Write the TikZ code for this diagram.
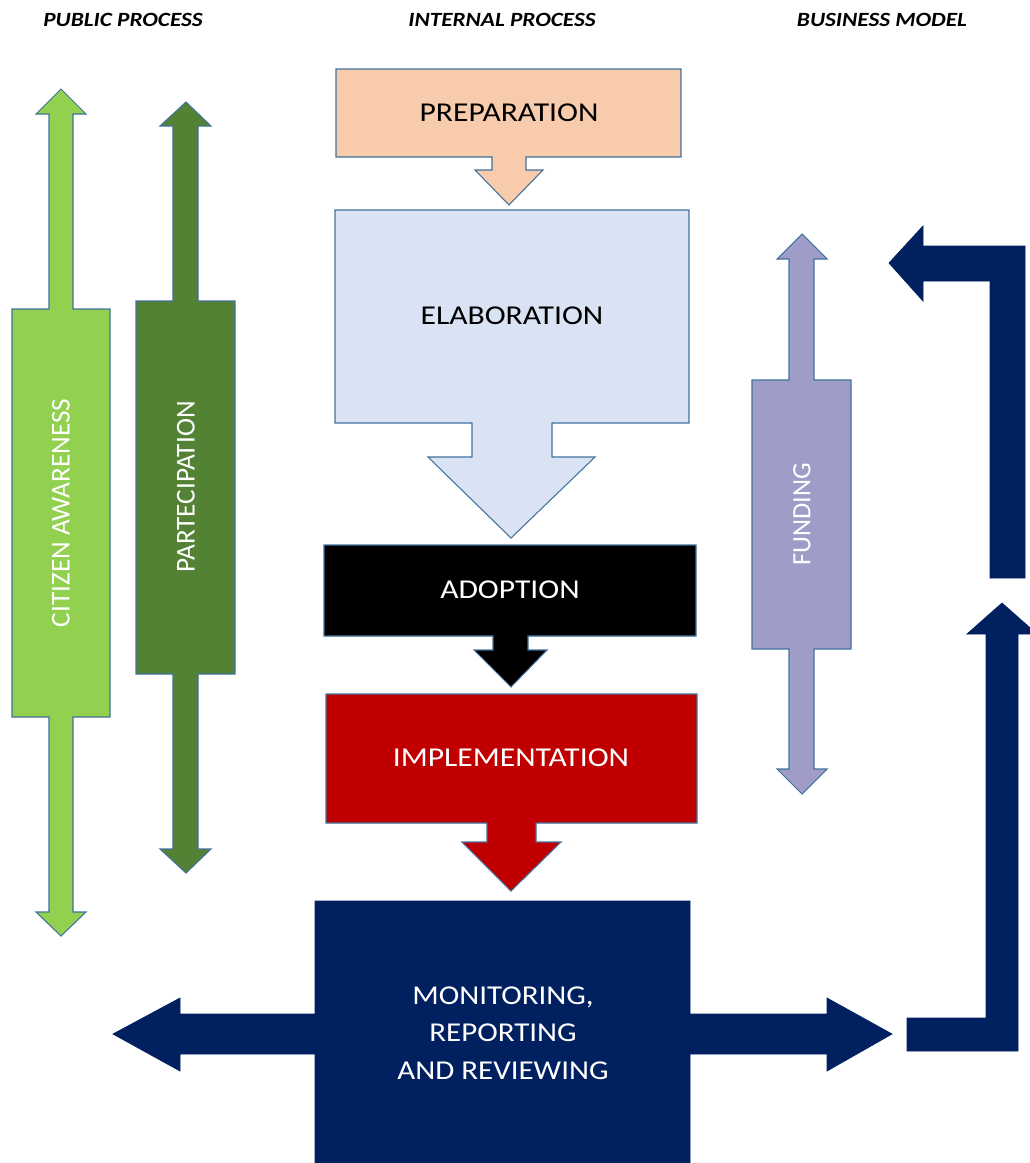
\documentclass[tikz,border=0pt]{standalone}
\usepackage{fontspec}
\setmainfont{Carlito}
\usetikzlibrary{positioning}
\definecolor{edgeblue}{HTML}{41719C}
\definecolor{peach}{HTML}{F8CBAD}
\definecolor{paleblue}{HTML}{DAE3F3}
\definecolor{darkred}{HTML}{C00000}
\definecolor{navy}{HTML}{002060}
\definecolor{lightgreen}{HTML}{92D050}
\definecolor{darkgreen}{HTML}{548235}
\definecolor{lavender}{HTML}{9F9DC8}

\begin{document}
\begin{tikzpicture}[x=0.02cm, y=-0.02cm,
  blk/.style={draw=edgeblue, line width=0.6pt},
  lbl/.style={font=\fontsize{15.5}{18}\selectfont, xscale=1.16},
  vlbl/.style={font=\fontsize{15.5}{18}\selectfont, text=white, rotate=90},
  hdr/.style={font=\fontsize{11.5}{14}\selectfont\bfseries\itshape, xscale=1.15}]
  \useasboundingbox (0,0) rectangle (1030,1163);

  % Column headers
  \node[hdr] (hpub) at (123,20) {PUBLIC PROCESS};
  \node[hdr] (hint) at (502,20) {INTERNAL PROCESS};
  \node[hdr] (hbus) at (882,20) {BUSINESS MODEL};

  % Internal process, top to bottom
  \fill[blk, fill=peach] (336,69) -- (681,69) -- (681,157) -- (526,157) -- (526,170)
    -- (543,170) -- (509,205) -- (475,170) -- (492,170) -- (492,157) -- (336,157) -- cycle;
  \node[lbl] (prep) at (509,113) {PREPARATION};

  \fill[blk, fill=paleblue] (335,210) -- (689,210) -- (689,423) -- (552,423) -- (552,457)
    -- (595,457) -- (511,538) -- (428,457) -- (472,457) -- (472,423) -- (335,423) -- cycle;
  \node[lbl] (elab) at (512,316) {ELABORATION};

  \fill[blk, fill=black] (324,545) -- (696,545) -- (696,636) -- (528,636) -- (528,650)
    -- (547,650) -- (511,687) -- (474,650) -- (493,650) -- (493,636) -- (324,636) -- cycle;
  \node[lbl, text=white] (adop) at (510,590) {ADOPTION};

  \fill[blk, fill=darkred] (326,694) -- (697,694) -- (697,823) -- (536,823) -- (536,842)
    -- (561,842) -- (511,891) -- (462,842) -- (487,842) -- (487,823) -- (326,823) -- cycle;
  \node[lbl, text=white] (impl) at (511,758) {IMPLEMENTATION};

  \fill[draw=navy, fill=navy] (315,901) -- (690,901) -- (690,1014) -- (827,1014) -- (827,998)
    -- (892,1034) -- (827,1071) -- (827,1054) -- (690,1054) -- (690,1163) -- (315,1163)
    -- (315,1054) -- (180,1054) -- (180,1071) -- (113,1034) -- (180,998) -- (180,1014)
    -- (315,1014) -- cycle;
  \node[lbl, text=white, align=center, font=\fontsize{15.5}{21.3}\selectfont, xscale=0.98]
    (moni) at (503,1033) {MONITORING,\\REPORTING\\AND REVIEWING};

  % Public process
  \fill[blk, fill=lightgreen] (61,89) -- (86,114) -- (73,114) -- (73,309) -- (110,309)
    -- (110,717) -- (73,717) -- (73,912) -- (86,912) -- (61,936) -- (36,912) -- (49,912)
    -- (49,717) -- (12,717) -- (12,309) -- (49,309) -- (49,114) -- (36,114) -- cycle;
  \node[vlbl] (citz) at (61,513) {CITIZEN AWARENESS};

  \fill[blk, fill=darkgreen] (186,102) -- (211,126) -- (198,126) -- (198,301) -- (235,301)
    -- (235,674) -- (198,674) -- (198,849) -- (211,849) -- (186,873) -- (160,849) -- (173,849)
    -- (173,674) -- (136,674) -- (136,301) -- (173,301) -- (173,126) -- (160,126) -- cycle;
  \node[vlbl] (part) at (186,487) {PARTECIPATION};

  % Business model
  \fill[blk, fill=lavender] (802,234) -- (827,259) -- (814,259) -- (814,380) -- (851,380)
    -- (851,649) -- (814,649) -- (814,769) -- (827,769) -- (802,794) -- (777,769) -- (789,769)
    -- (789,649) -- (752,649) -- (752,380) -- (789,380) -- (789,259) -- (777,259) -- cycle;
  \node[vlbl, font=\fontsize{15}{18}\selectfont] (fund) at (802,514) {FUNDING};

  % Feedback loop on the right
  \fill[draw=navy, fill=navy] (907,1018) -- (986,1018) -- (986,634) -- (967,634) -- (1002,603)
    -- (1037,634) -- (1018,634) -- (1018,1051) -- (907,1051) -- cycle;
  \fill[draw=navy, fill=navy] (1025,578) -- (1025,246) -- (923,246) -- (923,226) -- (889,263)
    -- (923,301) -- (923,281) -- (990,281) -- (990,578) -- cycle;
\end{tikzpicture}
\end{document}
